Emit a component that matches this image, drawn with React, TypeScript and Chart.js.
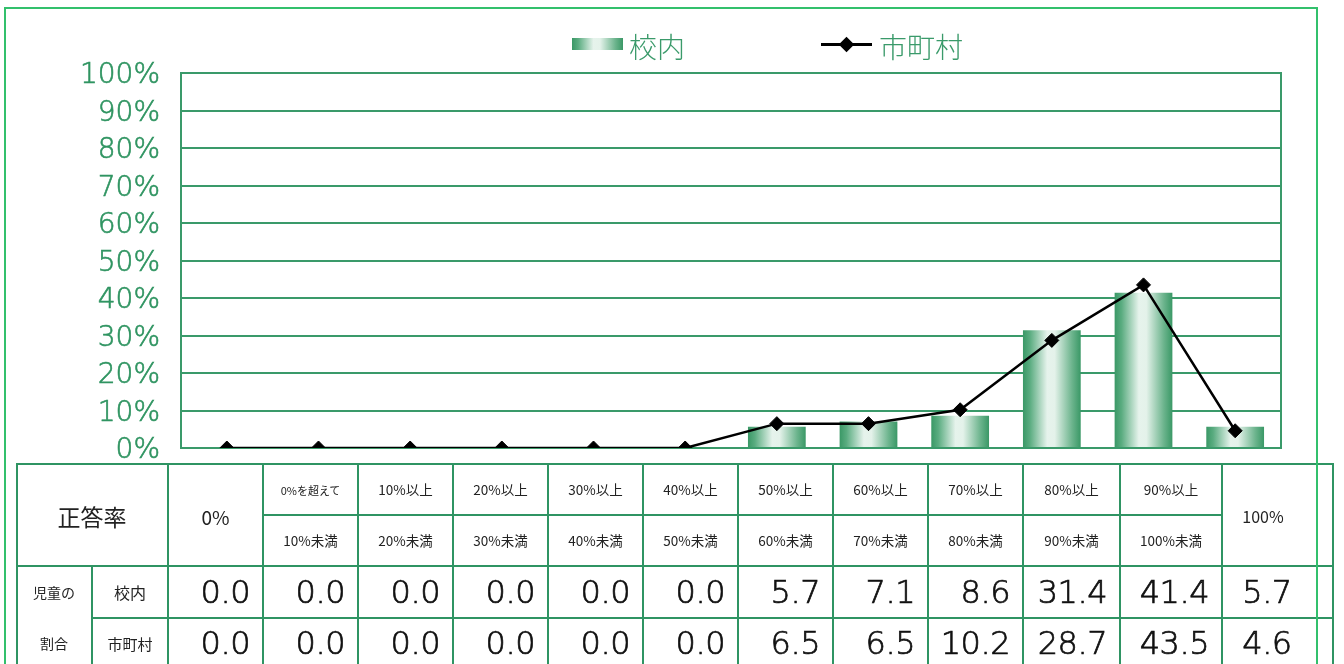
import React, { useEffect, useRef } from 'react';
import { Chart, registerables } from 'chart.js';

Chart.register(...registerables);

// 正答率の区分
const categories = [
  '0%', '0%を超えて10%未満', '10%以上20%未満', '20%以上30%未満', '30%以上40%未満',
  '40%以上50%未満', '50%以上60%未満', '60%以上70%未満', '70%以上80%未満',
  '80%以上90%未満', '90%以上100%未満', '100%',
];
const headerTop = ['', '0%を超えて', '10%以上', '20%以上', '30%以上', '40%以上', '50%以上', '60%以上', '70%以上', '80%以上', '90%以上', ''];
const headerBottom = ['', '10%未満', '20%未満', '30%未満', '40%未満', '50%未満', '60%未満', '70%未満', '80%未満', '90%未満', '100%未満', ''];
const headerSingle = ['0%', '', '', '', '', '', '', '', '', '', '', '100%'];

// 児童の割合 (%)
const schoolValues = [0.0, 0.0, 0.0, 0.0, 0.0, 0.0, 5.7, 7.1, 8.6, 31.4, 41.4, 5.7];
const cityValues = [0.0, 0.0, 0.0, 0.0, 0.0, 0.0, 6.5, 6.5, 10.2, 28.7, 43.5, 4.6];

const schoolLabel = '校内';
const cityLabel = '市町村';

const yMin = 0;
const yMax = 100;
const yStep = 10;

const GREEN = '#3a9a6a';
const TICK_GREEN = '#2f9461';
const TABLE_LINE = '#2f9463';
const FRAME = '#32c06c';
const TEXT = '#222';
const BAR_PCT = 0.63;

const colEdges = [168, 263, 358, 453, 548, 643, 738, 833, 928, 1023, 1120, 1222, 1333];
const rowY = [464, 515, 566, 618];

const hLine = (x1: number, x2: number, y: number, key: string) => (
  <div key={key} style={{ position: 'absolute', left: x1 - 1, top: y - 1, width: x2 - x1 + 2, height: 2, background: TABLE_LINE }} />
);
const vLine = (x: number, y1: number, y2: number, key: string) => (
  <div key={key} style={{ position: 'absolute', left: x - 1, top: y1 - 1, width: 2, height: y2 - y1 + 2, background: TABLE_LINE }} />
);

const centerText = (text: string, cx: number, cy: number, size: number, key: string, family = '"Noto Sans CJK JP", sans-serif') => (
  <div key={key} style={{
    position: 'absolute', left: cx - 100, top: cy - 20, width: 200, height: 40,
    display: 'flex', alignItems: 'center', justifyContent: 'center',
    fontFamily: family, fontSize: size, color: TEXT, whiteSpace: 'nowrap', lineHeight: 1,
  }}>{text}</div>
);

const valueFont = '"DejaVu Sans", sans-serif';

const valueText = (v: number, i: number, cy: number, key: string) => {
  const left = colEdges[i];
  const right = colEdges[i + 1];
  const last = i === categories.length - 1;
  return (
    <div key={key} style={{
      position: 'absolute', left: left, top: cy - 22, width: last ? 1312 - left : right - left - 13, height: 44,
      display: 'flex', alignItems: 'center', justifyContent: last ? 'center' : 'flex-end',
      fontFamily: valueFont, fontWeight: 200, fontSize: 32, color: '#111', whiteSpace: 'nowrap', lineHeight: 1,
      WebkitTextStroke: '0.7px #111', letterSpacing: -0.5,
    } as any}>{v.toFixed(1)}</div>
  );
};

function barGradient(chart: any, index: number) {
  const area = chart.chartArea;
  const xs = chart.scales.x;
  if (!area || !xs) return GREEN;
  const cx = xs.getPixelForValue(index);
  const w = ((area.right - area.left) / categories.length) * BAR_PCT;
  const g = chart.ctx.createLinearGradient(cx - w / 2, 0, cx + w / 2, 0);
  g.addColorStop(0, '#3a9866');
  g.addColorStop(0.12, '#5aac80');
  g.addColorStop(0.42, '#e6f3ec');
  g.addColorStop(0.55, '#e4f2ea');
  g.addColorStop(0.85, '#6cb48d');
  g.addColorStop(1, '#3a9866');
  return g;
}

// plot-area box drawn beneath the series
const frameBox = {
  id: 'frameBox',
  beforeDatasetsDraw(chart: any) {
    const { ctx, chartArea } = chart;
    ctx.save();
    ctx.strokeStyle = GREEN;
    ctx.lineWidth = 2;
    ctx.strokeRect(chartArea.left, chartArea.top, chartArea.right - chartArea.left, chartArea.bottom - chartArea.top);
    ctx.restore();
  },
};

export default function App() {
  const canvasRef = useRef<HTMLCanvasElement | null>(null);

  useEffect(() => {
    if (!canvasRef.current) return;
    const chart = new Chart(canvasRef.current, {
      type: 'bar',
      data: {
        labels: categories,
        datasets: [
          {
            type: 'line',
            label: cityLabel,
            data: cityValues,
            borderColor: '#000',
            borderWidth: 2.5,
            pointStyle: 'rectRot',
            pointRadius: 7,
            pointBorderWidth: 1,
            pointBackgroundColor: '#000',
            pointBorderColor: '#000',
            tension: 0,
            order: 0,
          } as any,
          {
            type: 'bar',
            label: schoolLabel,
            data: schoolValues,
            backgroundColor: (ctx: any) => (ctx.type === 'data' ? barGradient(ctx.chart, ctx.dataIndex) : GREEN),
            borderWidth: 0,
            barPercentage: BAR_PCT,
            categoryPercentage: 1,
            order: 1,
          } as any,
        ],
      },
      options: {
        responsive: false,
        animation: false,
        layout: { padding: { left: 0, top: 73, right: 63, bottom: 216 } },
        plugins: { legend: { display: false }, tooltip: { enabled: false } },
        scales: {
          x: { display: false, offset: true, grid: { display: false } },
          y: {
            min: yMin,
            max: yMax,
            ticks: {
              stepSize: yStep,
              callback: (v: any) => `${v}%`,
              color: TICK_GREEN,
              padding: 21,
              labelOffset: 3,
              textStrokeColor: TICK_GREEN,
              textStrokeWidth: 0.6,
              font: { family: '"DejaVu Sans", sans-serif', size: 28, weight: 200 as any },
            } as any,
            grid: { color: GREEN, lineWidth: 2, drawTicks: false },
            border: { display: true, color: GREEN, width: 2 },
            afterFit: (scale: any) => { scale.width = 181; },
          },
        },
      },
      plugins: [frameBox],
    });
    return () => chart.destroy();
  }, []);

  const cells: any[] = [];
  // table rules
  cells.push(hLine(17, 1333, rowY[0], 'h0'));
  cells.push(hLine(263, 1222, rowY[1], 'h1'));
  cells.push(hLine(17, 1333, rowY[2], 'h2'));
  cells.push(hLine(92, 1333, rowY[3], 'h3'));
  cells.push(vLine(17, rowY[0], 670, 'v-l'));
  cells.push(vLine(92, rowY[2], 670, 'v-s'));
  colEdges.forEach((x, i) => cells.push(vLine(x, rowY[0], 670, `v${i}`)));

  cells.push(centerText('正答率', 92, 516, 23, 't-head'));
  cells.push(centerText('児童の', 54, 592, 14, 't-r1'));
  cells.push(centerText('割合', 54, 643, 14, 't-r2'));
  cells.push(centerText(schoolLabel, 130, 592, 16, 't-s'));
  cells.push(centerText(cityLabel, 130, 643, 15, 't-c'));

  categories.forEach((_, i) => {
    const cx = (colEdges[i] + colEdges[i + 1]) / 2;
    if (headerSingle[i]) {
      const x = i === categories.length - 1 ? 1263 : cx;
      cells.push(centerText(headerSingle[i], x, 516, i === 0 ? 19 : 16, `hs${i}`));
    } else {
      cells.push(centerText(headerTop[i], cx, 490, i === 1 ? 11 : 13.5, `ht${i}`));
      cells.push(centerText(headerBottom[i], cx, 541, 13.5, `hb${i}`));
    }
    cells.push(valueText(schoolValues[i], i, 592, `vs${i}`));
    cells.push(valueText(cityValues[i], i, 643, `vc${i}`));
  });

  return (
    <div style={{ position: 'absolute', left: 0, top: 0, width: 1344, height: 664, overflow: 'hidden', background: '#fff' }}>
      <canvas ref={canvasRef} width={1344} height={664} style={{ position: 'absolute', left: 0, top: 0, width: 1344, height: 664 }} />

      {/* legend */}
      <div style={{
        position: 'absolute', left: 572, top: 38, width: 51, height: 12,
        background: 'linear-gradient(to right, #3a9866 0%, #5aac80 12%, #e6f3ec 42%, #e4f2ea 55%, #6cb48d 85%, #3a9866 100%)',
      }} />
      <div style={{ position: 'absolute', left: 629, top: 26, height: 40, display: 'flex', alignItems: 'center', fontFamily: '"Noto Sans CJK JP", sans-serif', fontWeight: 300, fontSize: 28, color: GREEN, lineHeight: 1 }}>{schoolLabel}</div>
      <div style={{ position: 'absolute', left: 821, top: 43, width: 51, height: 2.5, background: '#000' }} />
      <div style={{ position: 'absolute', left: 841, top: 39, width: 11, height: 11, background: '#000', transform: 'rotate(45deg)' }} />
      <div style={{ position: 'absolute', left: 879, top: 26, height: 40, display: 'flex', alignItems: 'center', fontFamily: '"Noto Sans CJK JP", sans-serif', fontWeight: 300, fontSize: 28, color: GREEN, lineHeight: 1 }}>{cityLabel}</div>

      {cells}

      {/* outer frame */}
      <div style={{ position: 'absolute', left: 4, top: 7, width: 1314, height: 700, borderLeft: `2px solid ${FRAME}`, borderTop: `2px solid ${FRAME}`, borderRight: `2px solid ${FRAME}`, boxSizing: 'border-box' }} />
    </div>
  );
}
